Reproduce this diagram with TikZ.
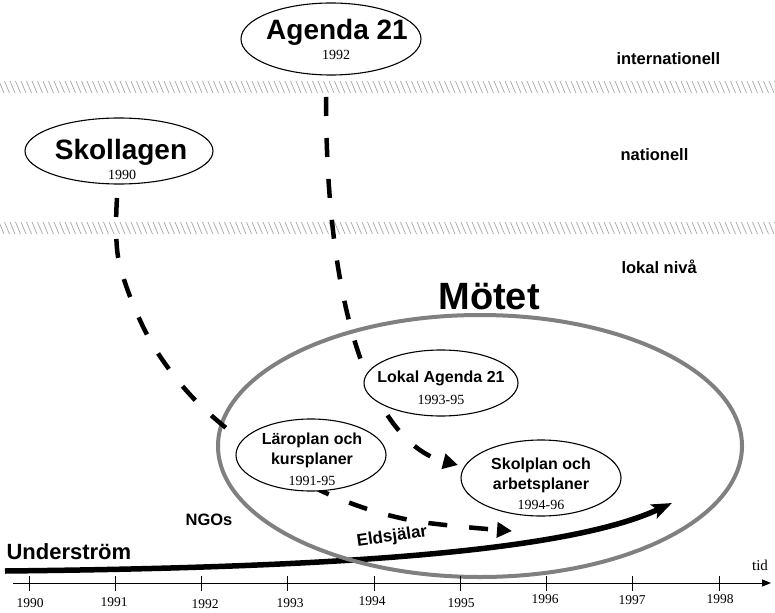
\documentclass[tikz,border=0pt]{standalone}
\usepackage{fontspec}
\setmainfont{Liberation Serif}
\setsansfont{Liberation Sans}
\usetikzlibrary{arrows.meta}
\newcommand\bubtitle{\sffamily\bfseries\fontsize{16}{20}\selectfont}
\newcommand\bubyear{\rmfamily\mdseries\fontsize{14}{20}\selectfont}
\begin{document}
\begin{tikzpicture}[x=1pt,y=-1pt,
  hatch/.style={gray!70, line width=0.7pt},
  levelname/.style={font=\sffamily\bfseries\fontsize{16.5}{19}\selectfont, anchor=west},
  bubble/.style={draw=black, fill=white, line width=1.1pt},
  bigtitle/.style={font=\sffamily\bfseries\fontsize{28}{32}\selectfont},
  inner/.style={align=center, font=\bubtitle, inner sep=0pt},
  flow/.style={line width=4.5pt, dash pattern=on 19pt off 22pt,
    -{Triangle[length=15pt,width=15pt]}},
  stream/.style={line width=5.5pt, -{Stealth[length=20pt,width=15pt,inset=4pt]}},
  yearlbl/.style={font=\rmfamily\fontsize{13.5}{16}\selectfont},
  tickmark/.style={line width=1pt}]
\useasboundingbox (0,0) rectangle (775,612);

% hatched level boundaries
\foreach \x in {-12,-6.5,...,780} {
  \draw[hatch] (\x,81) -- (\x+5,93);
  \draw[hatch] (\x,222) -- (\x+5,234);
}

% level names
\node[levelname] (intl) at (613,59) {internationell};
\node[levelname] (natl) at (617,155) {nationell};
\node[levelname] (lokl) at (618,267) {lokal nivå};

% centres of the bubbles
\coordinate (agc) at (331,39);
\coordinate (skc) at (119,151);
\coordinate (lac) at (441,383);
\coordinate (lpc) at (311,455);
\coordinate (spc) at (541,478);
\coordinate (mc) at (480,446);

% under-current along the time axis
\coordinate (us0) at (5,571);
\coordinate (us1) at (672,503);
\draw[stream] (us0) .. controls (300,568) and (560,555) .. (us1);

% the meeting
\draw[black!50, line width=4pt] (mc) ellipse [x radius=262, y radius=131];
\node[font=\sffamily\bfseries\fontsize{38}{44}\selectfont] (mot) at (489,297) {Mötet};

% influence paths
\coordinate (agout) at (326,97);
\coordinate (agend) at (458,465);
\draw[flow] (agout) .. controls (326,330) and (380,445) .. (agend);
\coordinate (skout) at (117,198);
\coordinate (skend) at (512,531);
\draw[flow] plot[smooth, tension=0.55] coordinates
  {(skout) (119,262) (150,340) (200,405) (280,468) (345,501) (415,521) (skend)};

% national and international documents
\draw[bubble] (agc) ellipse [x radius=90, y radius=36];
\node[bigtitle] (ag) at (337,32) {Agenda 21};
\node[font=\bubyear] (agy) at (336,55) {1992};
\draw[bubble] (skc) ellipse [x radius=94, y radius=33];
\node[font=\sffamily\bfseries\fontsize{28}{30}\selectfont] (sk) at (121,152) {Skollagen};
\node[font=\bubyear] (sky) at (122,175) {1990};

% local documents
\draw[bubble] (lac) ellipse [x radius=77, y radius=33];
\node[inner] (la) at (441,378) {Lokal Agenda 21};
\node[font=\bubyear] (lay) at (441,400) {1993-95};
\draw[bubble] (lpc) ellipse [x radius=75, y radius=36];
\node[inner] (lp) at (312,450) {Läroplan och\\kursplaner};
\node[font=\bubyear] (lpy) at (312,481) {1991-95};
\draw[bubble] (spc) ellipse [x radius=80, y radius=38];
\node[inner] (sp) at (541,475) {Skolplan och\\arbetsplaner};
\node[font=\bubyear] (spy) at (541,505) {1994-96};

% labels along the under-current
\node[font=\sffamily\bfseries\fontsize{22}{26}\selectfont, anchor=west] (und) at (3,552) {Underström};
\node[font=\sffamily\bfseries\fontsize{16.5}{20}\selectfont] (ngo) at (209,520) {NGOs};
\node[font=\sffamily\bfseries\fontsize{17}{20}\selectfont, rotate=8] (eld) at (392,537) {Eldsjälar};

% time axis
\coordinate (ax0) at (13,583);
\coordinate (ax1) at (771,583);
\draw[line width=1pt, -{Triangle[length=9pt,width=7pt]}] (ax0) -- (ax1);
\foreach \i in {0,...,8}
  \draw[tickmark] (29+86.25*\i,576) -- (29+86.25*\i,591);
\node[font=\rmfamily\fontsize{15}{18}\selectfont] (tid) at (760,565) {tid};
\foreach \yr/\xx/\yy in {1990/30/603, 1991/114/602, 1992/205/604, 1993/290/603,
    1994/372/601, 1995/461/603, 1996/545/599, 1997/632/600, 1998/720/599}
  \node[yearlbl] (y\yr) at (\xx,\yy) {\yr};
\end{tikzpicture}
\end{document}
